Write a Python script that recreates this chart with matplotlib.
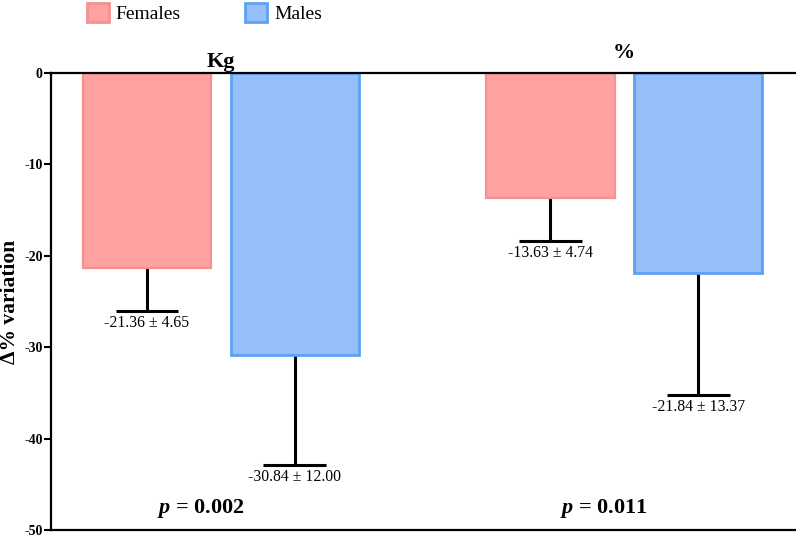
import matplotlib
matplotlib.use('Agg')
import matplotlib.pyplot as plt
from matplotlib.patches import Patch
import numpy as np

plt.rcParams['font.family'] = ['Liberation Serif', 'DejaVu Serif']
plt.rcParams['mathtext.fontset'] = 'custom'
plt.rcParams['mathtext.it'] = 'Liberation Serif:italic:bold'
plt.rcParams['mathtext.rm'] = 'Liberation Serif:bold'

# ---------------- data ---------------- #
groups = ['Kg', '%']
sexes = ['Females', 'Males']
means = {'Females': [-21.36, -13.63], 'Males': [-30.84, -21.84]}
sds = {'Females': [4.65, 4.74], 'Males': [12.00, 13.37]}
p_values = ['0.002', '0.011']

fill = {'Females': '#FFA1A1', 'Males': '#94BFF8'}
edge = {'Females': '#F79090', 'Males': '#5EA0F4'}
elw = {'Females': 1.6, 'Males': 2.0}

# ---------------- figure ---------------- #
fig = plt.figure(figsize=(7.96, 5.36), dpi=100)
ax = fig.add_axes([51/796, 6/536, 744/796, 457/536])

ind = np.arange(len(groups))
off = 0.183
width = 0.318
cap = 0.078

for k, s in enumerate(sexes):
  xs = ind + (2*k - 1) * off
  ax.bar(xs, means[s], width, color=fill[s], edgecolor=edge[s], linewidth=elw[s], zorder=2)
  for x, m, sd in zip(xs, means[s], sds[s]):
    lo = m - sd
    ax.vlines(x, lo, m, color='black', linewidth=2.2, zorder=1)
    ax.hlines(lo, x - cap, x + cap, color='black', linewidth=2.2, zorder=3)
    ax.text(x, lo - 0.45, '%.2f \u00b1 %.2f' % (m, sd), ha='center', va='top', fontsize=11.3)

ax.text(ind[0], 1.2, groups[0], ha='center', va='center', fontsize=16, fontweight='bold', clip_on=False)
ax.text(ind[1], 2.2, groups[1], ha='center', va='center', fontsize=16, fontweight='bold', clip_on=False)

for i, p in enumerate(p_values):
  ax.text(ind[i] - 0.05, -47.6, '$p$ = ' + p, ha='center', va='center', fontsize=16, fontweight='bold')

ax.set_xlim(-0.421, 1.423)
ax.set_ylim(-50, 0)
ax.set_yticks(np.arange(-50, 0.1, 10))
ax.set_yticklabels(['%d' % v for v in np.arange(-50, 0.1, 10)], fontweight='bold', fontsize=10)
ax.set_xticks([])
ax.tick_params(axis='y', direction='out', length=5, width=1.5, pad=1)
ax.spines['right'].set_visible(False)
for sp in ['left', 'top', 'bottom']:
  ax.spines[sp].set_linewidth(1.6)
ax.set_ylabel('\u0394% variation', fontsize=15.5, fontweight='bold', labelpad=3)

handles = [Patch(facecolor=fill[s], edgecolor=edge[s], linewidth=2) for s in sexes]
fig.legend(handles, sexes,
  loc='upper left',
  bbox_to_anchor=(73/796, 1.02),
  ncol=2,
  frameon=False,
  fontsize=14,
  borderpad=0.2,
  handlelength=1.15,
  handleheight=1.15,
  handletextpad=0.35,
  columnspacing=3.3)

fig.savefig('out.png', dpi=100)
